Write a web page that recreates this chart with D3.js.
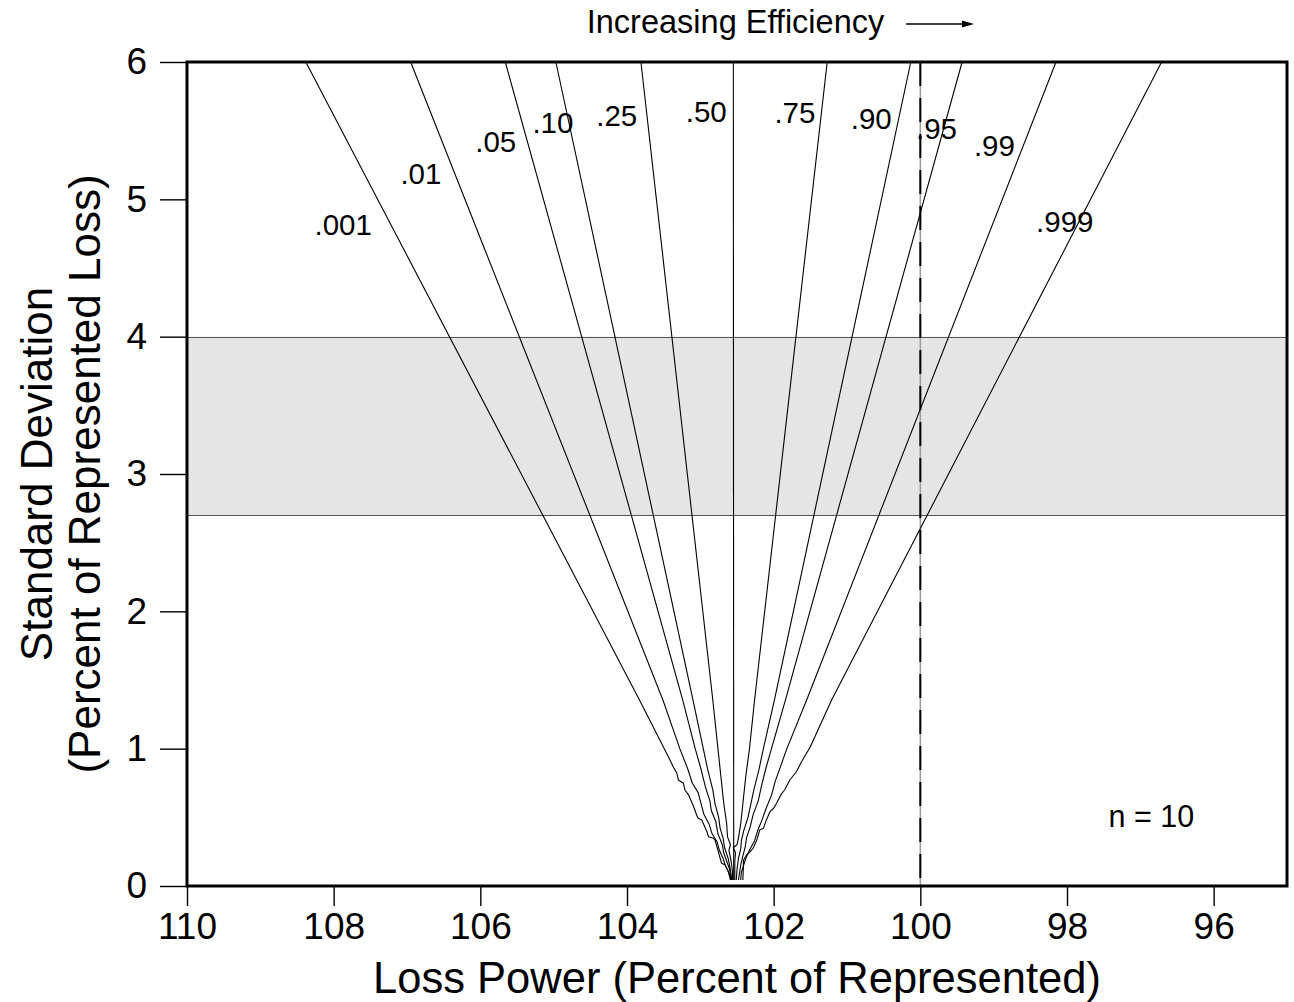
<!DOCTYPE html>
<html><head><meta charset="utf-8">
<script src="https://cdn.jsdelivr.net/npm/d3@7"></script>
<style>
body{margin:0;background:#fff}
svg{display:block}
text{font-family:"Liberation Sans",Arial,Helvetica,sans-serif;fill:#000}
</style>
</head><body>
<svg id="chart" width="1294" height="1002"></svg>
<script>
// ---------- data ----------
const xTicks = [110, 108, 106, 104, 102, 100, 98, 96];
const yTicks = [0, 1, 2, 3, 4, 5, 6];
const xDomain = [110, 95];
const yDomain = [0, 6];
const bandLow = 2.7;
const bandHigh = 4.0;
const referenceLoss = 100;
const sampleSize = "n = 10";
const xTitle = "Loss Power (Percent of Represented)";
const yTitleLines = ["Standard Deviation", "(Percent of Represented Loss)"];
const topNote = "Increasing Efficiency";

const probLabels = [".001", ".01", ".05", ".10", ".25", ".50", ".75", ".90", ".95", ".99", ".999"];
const labelLoss = [107.87, 106.81, 105.79, 105.01, 104.14, 102.92, 101.71, 100.67, 99.78, 98.99, 98.03];
const labelSd   = [4.82, 5.19, 5.42, 5.56, 5.61, 5.64, 5.63, 5.59, 5.52, 5.39, 4.84];
const notePos = [96.85, 0.43]; // [loss, sd] of "n = 10"

// each line: [standard deviation, loss power]
const p001 = [[6.0,108.38],[1.354,103.83],[0.966,103.46],[0.869,103.37],[0.821,103.32],[0.772,103.30],[0.748,103.23],[0.699,103.21],[0.663,103.16],[0.614,103.12],[0.590,103.10],[0.517,103.05],[0.493,103.03],[0.481,102.98],[0.432,102.94],[0.395,102.91],[0.359,102.89],[0.347,102.82],[0.335,102.80],[0.262,102.76],[0.202,102.73],[0.165,102.71],[0.153,102.66],[0.104,102.62],[0.068,102.60],[0.044,102.58]];
const p01  = [[6.0,106.95],[1.354,103.51],[1.0,103.28],[0.85,103.17],[0.75,103.11],[0.68,103.03],[0.60,102.99],[0.52,102.95],[0.45,102.88],[0.38,102.84],[0.32,102.77],[0.26,102.74],[0.20,102.69],[0.15,102.66],[0.10,102.61],[0.044,102.59]];
const p05  = [[6.0,105.66],[1.354,103.24],[1.0,103.07],[0.85,102.99],[0.72,102.93],[0.62,102.87],[0.55,102.85],[0.47,102.79],[0.38,102.76],[0.30,102.70],[0.24,102.68],[0.18,102.64],[0.12,102.60],[0.044,102.58]];
const p10  = [[6.0,104.97],[1.354,103.10],[1.0,102.96],[0.85,102.90],[0.70,102.83],[0.60,102.80],[0.50,102.75],[0.42,102.73],[0.35,102.69],[0.28,102.67],[0.20,102.62],[0.12,102.59],[0.044,102.57]];
const p25  = [[6.0,103.81],[1.354,102.83],[1.0,102.76],[0.80,102.72],[0.60,102.68],[0.45,102.64],[0.36,102.63],[0.30,102.59],[0.26,102.61],[0.18,102.58],[0.10,102.56],[0.044,102.56]];
const p50  = [[6.0,102.55],[0.044,102.545]];
const p75  = [[6.0,101.27],[1.354,102.26],[1.0,102.33],[0.80,102.38],[0.60,102.42],[0.45,102.45],[0.35,102.48],[0.30,102.50],[0.28,102.55],[0.24,102.52],[0.18,102.53],[0.10,102.53],[0.044,102.53]];
const p90  = [[6.0,100.13],[1.354,101.99],[1.0,102.14],[0.85,102.20],[0.70,102.27],[0.60,102.31],[0.50,102.35],[0.40,102.41],[0.33,102.44],[0.27,102.45],[0.20,102.48],[0.12,102.50],[0.044,102.51]];
const p95  = [[6.0,99.43],[1.354,101.84],[1.0,102.03],[0.85,102.11],[0.72,102.17],[0.62,102.21],[0.52,102.28],[0.43,102.32],[0.35,102.37],[0.28,102.39],[0.22,102.42],[0.15,102.45],[0.08,102.47],[0.044,102.48]];
const p99  = [[6.0,98.15],[1.354,101.55],[1.0,101.82],[0.88,101.90],[0.76,101.98],[0.66,102.03],[0.57,102.10],[0.48,102.16],[0.40,102.22],[0.33,102.26],[0.26,102.33],[0.20,102.38],[0.15,102.41],[0.10,102.44],[0.044,102.45]];
const p999 = [[6.0,96.71],[1.354,101.21],[1.014,101.50],[0.905,101.62],[0.832,101.69],[0.772,101.78],[0.699,101.85],[0.675,101.89],[0.602,101.96],[0.566,102.00],[0.541,102.05],[0.481,102.10],[0.420,102.14],[0.408,102.19],[0.335,102.23],[0.275,102.28],[0.250,102.32],[0.226,102.37],[0.189,102.41],[0.044,102.42]];
const allLines = [p001, p01, p05, p10, p25, p50, p75, p90, p95, p99, p999];

// ---------- drawing ----------
const svg = d3.select("#chart");
const x = d3.scaleLinear().domain(xDomain).range([187, 1287]);
const y = d3.scaleLinear().domain(yDomain).range([886, 62]);

// shaded band
svg.append("rect")
  .attr("x", x(xDomain[0])).attr("width", x(xDomain[1]) - x(xDomain[0]))
  .attr("y", y(bandHigh)).attr("height", y(bandLow) - y(bandHigh))
  .attr("fill", "#e5e5e5");
[bandLow, bandHigh].forEach(v => {
  svg.append("line")
    .attr("x1", x(xDomain[0])).attr("x2", x(xDomain[1]))
    .attr("y1", Math.round(y(v)) + 0.5).attr("y2", Math.round(y(v)) + 0.5)
    .attr("stroke", "#555").attr("stroke-width", 1);
});

// reference line at 100
svg.append("line")
  .attr("x1", x(referenceLoss)).attr("x2", x(referenceLoss))
  .attr("y1", y(yDomain[1])).attr("y2", y(yDomain[0]))
  .attr("stroke", "#9a9a9a").attr("stroke-width", 1.5);
svg.append("line")
  .attr("x1", x(referenceLoss)).attr("x2", x(referenceLoss))
  .attr("y1", y(yDomain[1])).attr("y2", y(yDomain[0]))
  .attr("stroke", "#000").attr("stroke-width", 2)
  .attr("stroke-dasharray", "24,12");

// percentile lines
const lineGen = d3.line().x(d => x(d[1])).y(d => y(d[0]));
svg.append("g").selectAll("path").data(allLines).join("path")
  .attr("d", lineGen)
  .attr("fill", "none")
  .attr("stroke", "#000")
  .attr("stroke-width", 1.1)
  .attr("stroke-linejoin", "round");

// line labels
svg.append("g").selectAll("text").data(probLabels).join("text")
  .attr("x", (d, i) => x(labelLoss[i]))
  .attr("y", (d, i) => y(labelSd[i]))
  .attr("dy", "0.36em")
  .attr("text-anchor", "middle")
  .attr("font-size", 29.5)
  .text(d => d);

// axes
const xAxis = d3.axisBottom(x).tickValues(xTicks).tickSize(20).tickPadding(7).tickFormat(d3.format("d"));
const gx = svg.append("g").attr("transform", `translate(0,${y(0)})`).call(xAxis);
gx.select(".domain").remove();
gx.selectAll(".tick line").attr("stroke", "#000").attr("stroke-width", 1.4);
gx.selectAll(".tick text").attr("font-size", 37).attr("font-family", "Liberation Sans, Arial, sans-serif").attr("fill", "#000");

const yAxis = d3.axisLeft(y).tickValues(yTicks).tickSize(27).tickPadding(13).tickFormat(d3.format("d"));
const gy = svg.append("g").attr("transform", `translate(${x(xDomain[0])},0)`).call(yAxis);
gy.select(".domain").remove();
gy.selectAll(".tick line").attr("stroke", "#000").attr("stroke-width", 1.4);
gy.selectAll(".tick text").attr("font-size", 37).attr("font-family", "Liberation Sans, Arial, sans-serif").attr("fill", "#000");

// frame
svg.append("rect")
  .attr("x", x(xDomain[0])).attr("y", y(yDomain[1]))
  .attr("width", x(xDomain[1]) - x(xDomain[0]))
  .attr("height", y(yDomain[0]) - y(yDomain[1]))
  .attr("fill", "none").attr("stroke", "#000").attr("stroke-width", 3);

// axis titles
svg.append("text")
  .attr("x", (x(xDomain[0]) + x(xDomain[1])) / 2).attr("y", 993)
  .attr("text-anchor", "middle").attr("font-size", 43.5)
  .text(xTitle);

const yMid = (y(yDomain[0]) + y(yDomain[1])) / 2;
yTitleLines.forEach((t, i) => {
  svg.append("text")
    .attr("transform", `translate(${52 + i * 48},${yMid}) rotate(-90)`)
    .attr("text-anchor", "middle").attr("font-size", 44)
    .text(t);
});

// top note with arrow
const note = svg.append("text")
  .attr("x", 735.5).attr("y", 33)
  .attr("text-anchor", "middle").attr("font-size", 32.5)
  .text(topNote);
const bb = note.node().getBBox();
const ax0 = bb.x + bb.width + 21, ax1 = ax0 + 68, ay = 24;
svg.append("line").attr("x1", ax0).attr("x2", ax1 - 10).attr("y1", ay).attr("y2", ay)
  .attr("stroke", "#000").attr("stroke-width", 1.5);
svg.append("path")
  .attr("d", `M${ax1},${ay} L${ax1 - 12},${ay - 3.5} L${ax1 - 12},${ay + 3.5} Z`)
  .attr("fill", "#000");

// sample size note
svg.append("text")
  .attr("x", x(notePos[0])).attr("y", y(notePos[1]))
  .attr("text-anchor", "middle").attr("font-size", 30.5)
  .text(sampleSize);
</script>
</body></html>
